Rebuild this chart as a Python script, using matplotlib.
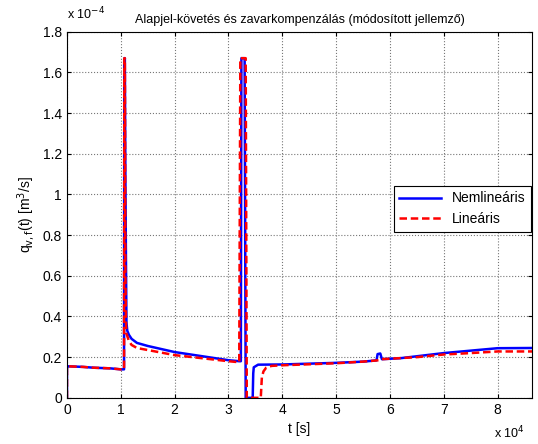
import matplotlib
matplotlib.use('Agg')
import matplotlib.pyplot as plt

plt.rcParams['font.family'] = ['Liberation Sans', 'DejaVu Sans']

# idő [x 10^4 s] és térfogatáram [x 10^-4 m^3/s]
t_nemlin = [0, 0, 0.02, 0.3, 0.5, 0.8, 1.0, 1.06, 1.065, 1.075, 1.085, 1.095, 1.105, 1.12,
            1.15, 1.2, 1.3, 1.5, 1.75, 2.0, 2.5, 3.0, 3.2, 3.23, 3.24, 3.3, 3.32, 3.45,
            3.46, 3.47, 3.55, 4.0, 5.0, 5.5, 5.75, 5.77, 5.82, 5.85, 6.2, 7.0, 7.5, 8.0, 8.64]
q_nemlin = [0, 0.155, 0.155, 0.152, 0.148, 0.145, 0.14, 0.14, 1.67, 1.67, 1.1, 0.7, 0.37,
            0.33, 0.31, 0.29, 0.27, 0.255, 0.24, 0.225, 0.205, 0.185, 0.18, 0.18, 1.67,
            1.67, 0, 0, 0.12, 0.15, 0.163, 0.164, 0.172, 0.178, 0.184, 0.215, 0.218, 0.19,
            0.195, 0.22, 0.232, 0.244, 0.245]

t_lin = [0, 0, 0.02, 0.3, 0.5, 0.8, 1.0, 1.06, 1.065, 1.075, 1.085, 1.1, 1.15, 1.2, 1.3,
         1.5, 2.0, 2.5, 3.0, 3.2, 3.22, 3.32, 3.34, 3.6, 3.62, 3.65, 3.7, 3.8, 4.0, 5.0,
         5.5, 5.8, 5.85, 6.5, 7.0, 7.5, 8.0, 8.64]
q_lin = [0, 0.155, 0.155, 0.152, 0.148, 0.145, 0.14, 0.14, 1.67, 1.67, 0.6, 0.32, 0.28,
         0.26, 0.245, 0.235, 0.21, 0.195, 0.18, 0.175, 1.67, 1.67, 0, 0, 0.1, 0.13, 0.148,
         0.157, 0.16, 0.17, 0.178, 0.185, 0.19, 0.2, 0.213, 0.22, 0.228, 0.228]

x_ticks = [0, 1, 2, 3, 4, 5, 6, 7, 8]
y_ticks = [0, 0.2, 0.4, 0.6, 0.8, 1, 1.2, 1.4, 1.6, 1.8]
y_tick_labels = ['0', '0.2', '0.4', '0.6', '0.8', '1', '1.2', '1.4', '1.6', '1.8']

fig = plt.figure(figsize=(5.38, 4.44), dpi=100)
ax = fig.add_axes([0.1245, 0.104, 0.8645, 0.8245])

ax.plot(t_nemlin, q_nemlin, color='#0000ff', lw=1.8, label='Nemlineáris')
ax.plot(t_lin, q_lin, color='#ff0000', lw=1.8, ls='--', dashes=(3, 1.5), label='Lineáris')

ax.set_xlim(0, 8.64)
ax.set_ylim(0, 1.8)
ax.set_xticks(x_ticks)
ax.set_yticks(y_ticks)
ax.set_yticklabels(y_tick_labels)
ax.tick_params(direction='in', top=True, right=True, labelsize=10, length=3)
ax.grid(True, color='#777777', ls=':', lw=0.8)

ax.set_xlabel('t [s]', fontsize=10, labelpad=4)
ax.set_ylabel(r'q$_{\mathrm{v,f}}$(t) [m$^3$/s]', fontsize=10, labelpad=4)
ax.set_title('Alapjel-követés és zavarkompenzálás (módosított jellemző)', fontsize=9, pad=6)

fig.text(0.1245, 0.95, r'x 10$^{-4}$', fontsize=9, ha='left', va='bottom')
fig.text(0.975, 0.005, r'x 10$^{4}$', fontsize=9, ha='right', va='bottom')

leg = ax.legend(loc='upper left', bbox_to_anchor=(0.688, 0.598), fontsize=10, fancybox=False,
                edgecolor='black', framealpha=1, handlelength=3)
leg.get_frame().set_linewidth(0.8)

fig.savefig('out.png', dpi=100)
